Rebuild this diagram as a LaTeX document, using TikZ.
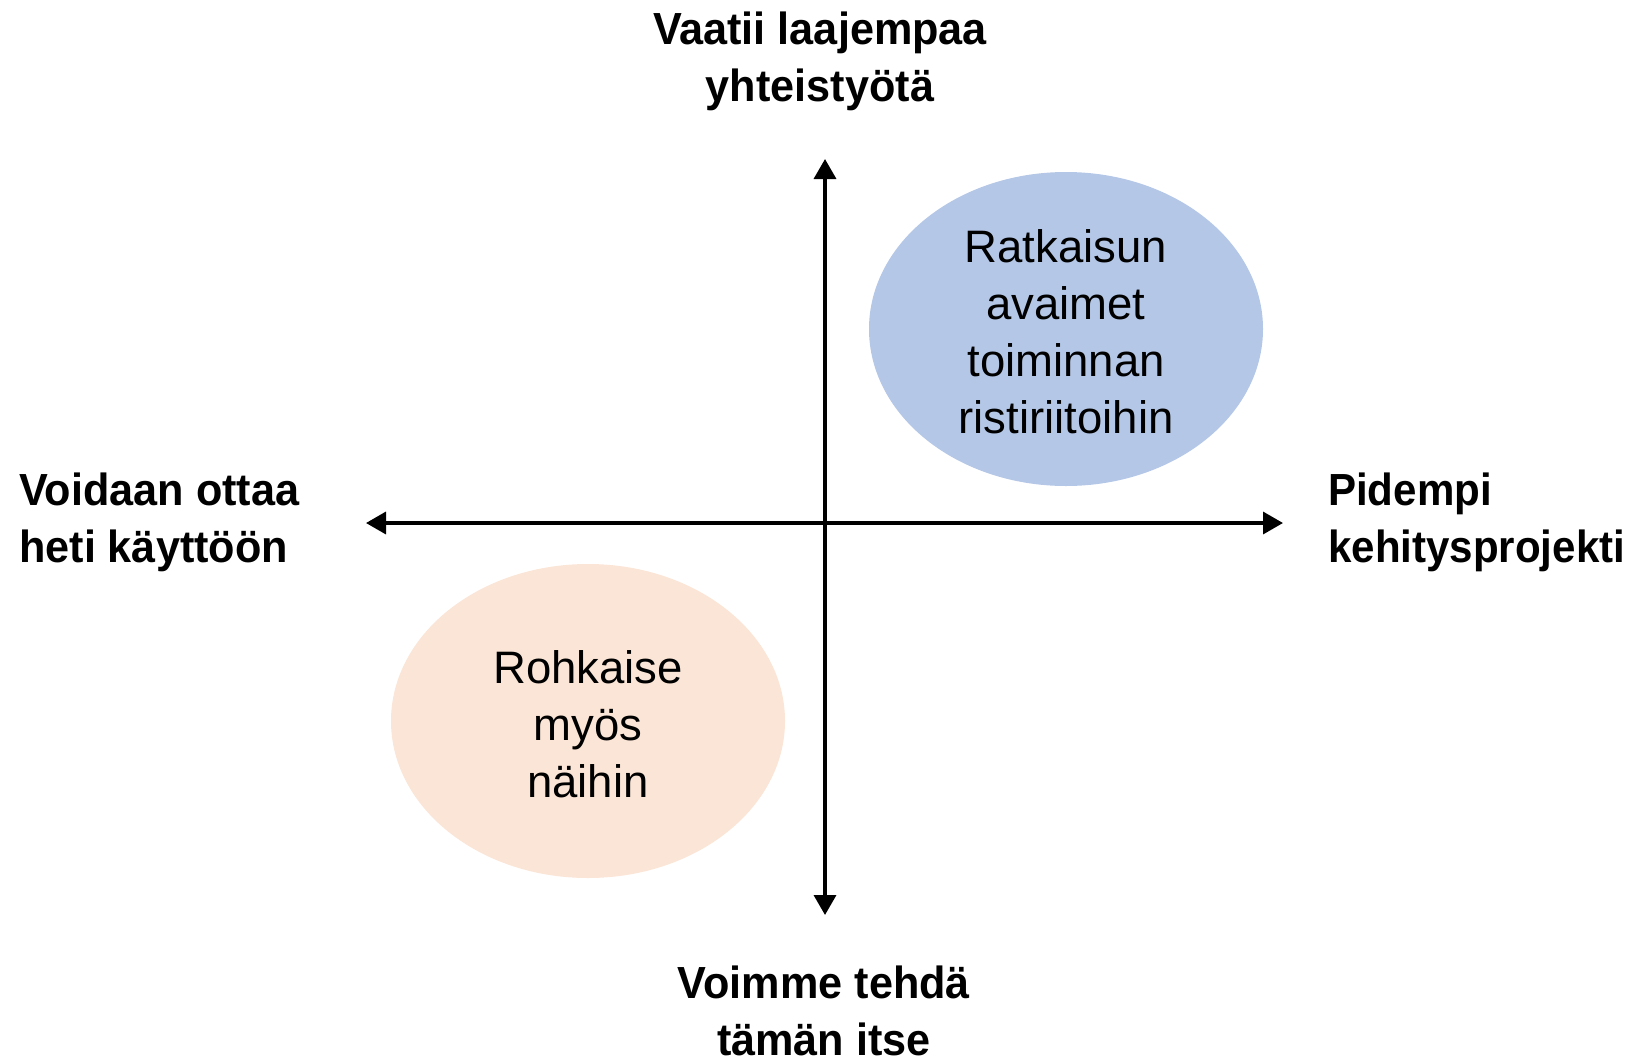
\documentclass[tikz,border=0pt]{standalone}
\usepackage{fontspec}
\setmainfont{Liberation Sans}
\newfontfamily\lblfont[FakeStretch=0.96]{Liberation Sans}
\newfontfamily\lblfontn[FakeStretch=0.935]{Liberation Sans}
\usetikzlibrary{arrows.meta,shapes.geometric}
\definecolor{blueell}{HTML}{B4C7E7}
\definecolor{peachell}{HTML}{FBE5D6}
\begin{document}
\begin{tikzpicture}[x=1pt,y=-1pt,
  axis/.style={line width=3.5pt, {Triangle[length=20pt,width=22pt]}-{Triangle[length=20pt,width=22pt]}},
  lbl/.style={font=\lblfont\fontsize{45}{57}\selectfont\bfseries, align=center, inner sep=0pt},
  lbll/.style={font=\lblfont\fontsize{45}{57}\selectfont\bfseries, align=left, inner sep=0pt},
  bubble/.style={ellipse, minimum width=394pt, minimum height=314pt, inner sep=0pt, draw=none},
  btext/.style={font=\fontsize{45.5}{57}\selectfont, align=center, inner sep=0pt}]
\useasboundingbox (0,0) rectangle (1631,1061);
% ellipses
\node[bubble, fill=blueell] (blue) at (1066,329) {};
\node[bubble, fill=peachell] (peach) at (588,721) {};
\node[btext] (bluet) at (1066,332) {Ratkaisun\\avaimet\\toiminnan\\ristiriitoihin};
\node[btext] (peacht) at (588,724) {Rohkaise\\myös\\näihin};
% axes
\coordinate (top) at (825,159);
\coordinate (bot) at (825,915);
\coordinate (left) at (366,523);
\coordinate (right) at (1283,523);
\draw[axis] (bot) -- (top);
\draw[axis] (left) -- (right);
% labels
\node[lbl] (tl) at (820,61) {Vaatii laajempaa\\yhteistyötä};
\node[lbl] (bl) at (824,1011) {Voimme tehdä\\tämän itse};
\node[lbll, anchor=west] (ll) at (19,522) {Voidaan ottaa\\heti käyttöön};
\node[lbll, anchor=west, font=\lblfontn\fontsize{45}{57}\selectfont\bfseries] (rl) at (1328,522) {Pidempi\\kehitysprojekti};
\end{tikzpicture}
\end{document}
